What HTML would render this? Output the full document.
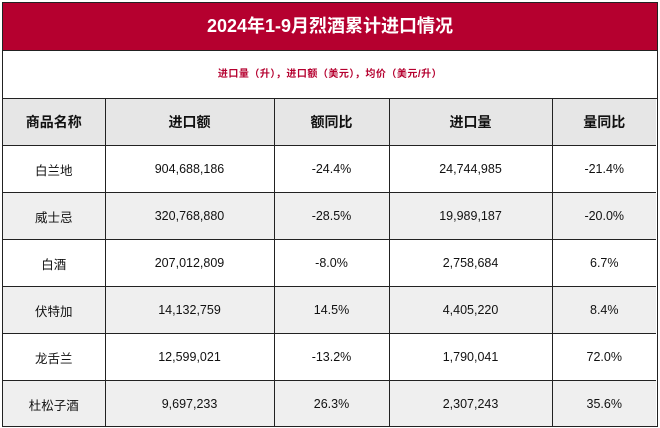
<!DOCTYPE html>
<html><head><meta charset="utf-8"><style>
body{margin:0;width:660px;height:428px;background:#fff;font-family:"Liberation Sans","Noto Sans CJK SC",sans-serif;overflow:hidden}
.w{position:absolute;left:2px;top:2px;width:656px;height:425px;border:1.5px solid #222;box-sizing:border-box;overflow:hidden}
.t{position:absolute;left:0;top:0;width:100%;height:48px;background:#b5002f;color:#fff;font-weight:bold;font-size:18px;text-align:center;line-height:46px;border-bottom:1.5px solid #222;box-sizing:border-box}
.s{position:absolute;left:0;top:48px;width:100%;height:48px;color:#b5002f;font-size:10px;font-weight:bold;text-align:center;line-height:48px;border-bottom:1.5px solid #222;box-sizing:border-box;letter-spacing:0.5px}
table{position:absolute;left:0;top:96px;border-collapse:collapse;width:653px;table-layout:fixed}
td{border:1.5px solid #222;height:46px;text-align:center;font-size:12.5px;color:#111;padding:0}
tr:first-child td{font-weight:bold;font-size:14px;background:#e6e6e6;border-top:none}
tr.g td{background:#efefef}
td:first-child{border-left:none}td:last-child{border-right:none}
tr:last-child td{border-bottom:none}
</style></head><body>
<div class="w">
<div class="t">2024年1-9月烈酒累计进口情况</div>
<div class="s">进口量（升），进口额（美元），均价（美元/升）</div>
<table>
<colgroup><col style="width:102px"><col style="width:169px"><col style="width:115px"><col style="width:163px"><col style="width:104px"></colgroup>
<tr><td>商品名称</td><td>进口额</td><td>额同比</td><td>进口量</td><td>量同比</td></tr>
<tr><td>白兰地</td><td>904,688,186</td><td>-24.4%</td><td>24,744,985</td><td>-21.4%</td></tr>
<tr class="g"><td>威士忌</td><td>320,768,880</td><td>-28.5%</td><td>19,989,187</td><td>-20.0%</td></tr>
<tr><td>白酒</td><td>207,012,809</td><td>-8.0%</td><td>2,758,684</td><td>6.7%</td></tr>
<tr class="g"><td>伏特加</td><td>14,132,759</td><td>14.5%</td><td>4,405,220</td><td>8.4%</td></tr>
<tr><td>龙舌兰</td><td>12,599,021</td><td>-13.2%</td><td>1,790,041</td><td>72.0%</td></tr>
<tr class="g"><td>杜松子酒</td><td>9,697,233</td><td>26.3%</td><td>2,307,243</td><td>35.6%</td></tr>
</table>
</div>
</body></html>
